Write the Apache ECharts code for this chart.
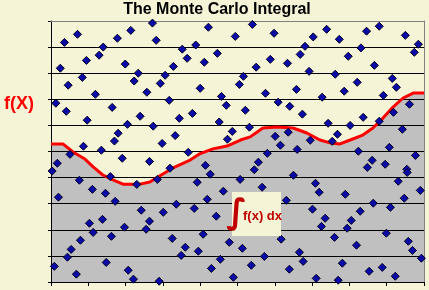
<!DOCTYPE html>
<html><head><meta charset="utf-8">
<script src="https://cdn.jsdelivr.net/npm/echarts@6/dist/echarts.min.js"></script>
<style>html,body{margin:0;padding:0;background:#F5F4D7;}#c{width:429px;height:290px;}</style>
</head><body><div id="c"></div>
<script>
const titleText = "The Monte Carlo Integral";
const yLabel = "f(X)";
const integralSign = "\u222B";
const integralText = "f(x) dx";

const curveX = [0, 0.32, 0.59, 0.91, 1.13, 1.39, 1.66, 1.93, 2.39, 2.65, 3.00, 3.27, 3.73, 4.00, 4.34, 4.72, 5.08, 5.34, 5.53, 5.68, 6.06, 6.49, 6.86, 7.21, 7.48, 7.75, 8.02, 8.36, 8.63, 8.90, 9.17, 9.44, 9.71, 10];
const curveY = [5.29, 5.29, 4.98, 4.71, 4.41, 4.10, 3.91, 3.75, 3.75, 3.83, 4.14, 4.37, 4.67, 4.92, 5.10, 5.21, 5.44, 5.56, 5.75, 5.90, 5.94, 5.90, 5.71, 5.44, 5.33, 5.29, 5.44, 5.63, 5.90, 6.28, 6.70, 7.05, 7.24, 7.24];

const pointX = [0.36,0.71,1.40,1.78,2.14,2.72,2.82,3.52,3.88,4.22,4.94,5.40,5.98,6.81,7.03,7.39,7.73,8.31,8.46,8.80,9.50,9.85,
0.95,1.29,1.99,0.25,2.34,0.84,0.46,2.23,1.19,2.57,0.13,1.64,0.41,2.39,0.97,2.05,1.80,1.70,0.87,1.35,0.51,1.91,0.17,2.64,0.03,
4.46,3.65,3.28,4.11,5.50,5.88,6.34,3.06,5.16,2.93,5.05,4.00,5.75,4.57,3.17,6.09,4.70,5.21,6.40,3.79,3.44,4.51,2.74,5.32,4.86,3.33,6.01,4.73,2.98,6.15,3.68,5.80,5.56,4.14,3.19,5.45,
6.68,7.97,9.74,8.67,6.92,7.62,9.15,8.21,9.26,6.58,7.86,8.91,7.27,9.61,6.74,9.18,8.37,8.80,7.43,8.02,9.42,6.36,7.68,6.95,7.54,6.60,9.07,8.24,9.77,8.61,8.96,8.48,9.54,
0.76,1.11,1.46,0.20,1.72,2.42,2.64,1.03,1.38,1.97,2.55,1.13,1.62,0.79,0.54,0.44,1.48,0.09,2.07,0.68,2.21,1.59,2.30,
4.27,5.07,2.85,3.92,5.66,4.62,4.19,3.36,6.31,3.84,3.01,4.43,4.08,3.25,6.17,4.78,3.60,5.13,3.95,3.49,5.72,4.54,5.37,4.30,6.39,4.89,2.90,
9.55,6.50,9.31,7.09,7.19,7.89,9.90,9.47,8.64,7.01,9.10,8.29,7.35,8.05,7.25,7.94,8.99,7.60,9.58,8.19,6.66,9.69,6.76,9.93,7.81,8.88,8.53,9.23,7.11,7.70];
const pointY = [9.18,9.49,9.00,9.34,9.64,9.92,9.26,8.92,9.08,9.76,9.41,9.87,9.53,9.03,9.39,9.68,9.30,8.97,9.61,9.80,9.45,9.11,
8.49,8.69,8.35,8.19,8.00,7.84,7.54,7.70,7.19,7.27,6.85,6.69,6.54,6.35,6.20,6.04,5.70,5.40,5.20,5.05,4.89,4.74,4.55,4.62,4.25,
8.76,8.57,8.26,8.42,8.23,8.53,8.38,7.92,7.88,7.61,7.57,7.42,7.23,7.11,6.96,6.89,6.77,6.58,6.73,6.46,6.27,6.13,5.97,5.93,5.77,5.61,5.58,5.47,5.31,5.24,4.97,4.93,4.59,4.47,4.36,4.30,
8.72,8.65,8.80,8.30,8.07,7.96,7.80,7.65,7.46,7.38,7.31,7.15,7.08,6.81,6.43,6.50,6.31,6.16,6.08,6.00,5.85,5.74,5.66,5.43,5.39,5.08,5.16,5.01,4.85,4.66,4.51,4.39,4.32,
3.90,3.55,3.40,3.25,3.09,2.75,2.33,2.25,2.40,2.10,2.02,1.90,1.75,1.60,1.25,0.95,0.75,0.60,0.45,0.30,0.11,4.04,3.74,
4.13,3.93,3.93,3.82,3.63,3.48,3.17,2.98,3.13,2.82,2.67,2.52,1.83,1.67,1.64,1.52,1.33,1.29,1.18,1.02,0.98,0.87,0.64,0.52,0.49,0.18,0.03,
4.20,4.09,3.86,3.78,3.44,3.36,3.51,3.21,3.02,2.79,2.86,2.71,2.44,2.36,2.13,2.06,1.87,1.71,1.56,1.41,1.14,1.21,0.79,0.91,0.72,0.56,0.41,0.22,0.14,0.07];

const xTicks = [0,1,2,3,4,5,6,7,8,9,10];
const yTicks = [0,1,2,3,4,5,6,7,8,9,10];

const curveData = curveX.map((x, i) => [x, curveY[i]]);
const pointData = pointX.map((x, i) => [x, pointY[i]]);

const bg = '#F5F4D7';
const chart = echarts.init(document.getElementById('c'), null, {renderer: 'canvas'});
chart.setOption({
  animation: false,
  backgroundColor: bg,
  grid: {left: 51, right: 5, top: 21, bottom: 8, show: false},
  xAxis: [
    {type: 'value', min: xTicks[0], max: xTicks[xTicks.length-1], interval: 1, position: 'bottom', z: 4,
     axisLine: {show: true, onZero: false, lineStyle: {color: '#000', width: 1}},
     axisTick: {show: true, inside: false, length: 4, lineStyle: {color: '#000'}},
     axisLabel: {show: false}, splitLine: {show: false}},
    {type: 'value', min: xTicks[0], max: xTicks[xTicks.length-1], position: 'top', z: 4,
     axisLine: {show: true, onZero: false, lineStyle: {color: '#808080', width: 1}},
     axisTick: {show: false}, axisLabel: {show: false}, splitLine: {show: false}}
  ],
  yAxis: [
    {type: 'value', min: yTicks[0], max: yTicks[yTicks.length-1], interval: 1, position: 'left', z: 2,
     axisLine: {show: true, onZero: false, lineStyle: {color: '#000', width: 1}},
     axisTick: {show: true, inside: false, length: 3, lineStyle: {color: '#000'}},
     axisLabel: {show: false}, splitLine: {show: true, lineStyle: {color: '#000', width: 1}}},
    {type: 'value', min: yTicks[0], max: yTicks[yTicks.length-1], position: 'right', z: 4,
     axisLine: {show: true, onZero: false, lineStyle: {color: '#808080', width: 1}},
     axisTick: {show: false}, axisLabel: {show: false}, splitLine: {show: false}}
  ],
  series: [
    {type: 'line', data: curveData, z: 1, symbol: 'none', silent: true,
     lineStyle: {width: 0, opacity: 0}, areaStyle: {color: '#C0C0C0', opacity: 1}},
    {type: 'line', data: curveData, z: 3, symbol: 'none', silent: true,
     lineStyle: {width: 3, color: '#FF0000'}},
    {type: 'scatter', data: pointData, z: 5, symbol: 'diamond', symbolSize: 8,
     itemStyle: {color: '#0A0AA8', borderColor: '#000020', borderWidth: 1, opacity: 1}}
  ],
  graphic: [
    {type: 'text', x: 217, y: 2, z: 100, style: {text: titleText, fill: '#000', fontSize: 16, fontWeight: 'bold', fontFamily: '"Liberation Sans", Arial, sans-serif', align: 'center', verticalAlign: 'top'}},
    {type: 'text', x: 19, y: 104.5, z: 100, style: {text: yLabel, fill: '#FF0000', fontSize: 18, fontWeight: 'bold', fontFamily: '"Liberation Sans", Arial, sans-serif', align: 'center', verticalAlign: 'middle'}},
    {type: 'rect', z: 100, shape: {x: 232, y: 192, width: 49, height: 44}, style: {fill: bg}},
    {type: 'text', x: 236.5, y: 214, z: 101, style: {text: integralSign, fill: '#C00000', fontSize: 34, fontWeight: 'bold', fontFamily: '"DejaVu Sans", sans-serif', align: 'center', verticalAlign: 'middle'}},
    {type: 'text', x: 243, y: 216, z: 101, style: {text: integralText, fill: '#C00000', fontSize: 13, fontWeight: 'bold', fontFamily: '"Liberation Sans", Arial, sans-serif', align: 'left', verticalAlign: 'middle'}}
  ]
});
</script></body></html>
